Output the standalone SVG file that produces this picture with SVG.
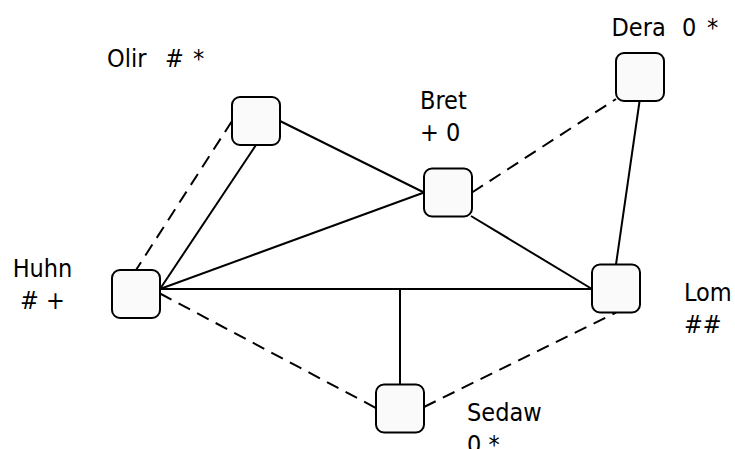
<svg xmlns="http://www.w3.org/2000/svg" width="735" height="449" viewBox="0 0 735 449">
  <style>
    .box { fill: #fafafa; stroke: #000; stroke-width: 2; }
    .edge { fill: none; stroke: #000; stroke-width: 2; }
    .dash { stroke-dasharray: 13 8; }
    .lbl { font-family: "DejaVu Sans", "Liberation Sans", sans-serif; font-stretch: condensed; font-size: 25px; fill: #000; white-space: pre; }
  </style>
  <rect width="735" height="449" fill="#fff"/>

  <!-- connectors -->
  <g id="edges">
    <line class="edge dash" x1="232" y1="121" x2="136" y2="270"/>
    <line class="edge" x1="256" y1="145" x2="160" y2="289"/>
    <line class="edge" x1="280" y1="121" x2="424" y2="192.5"/>
    <line class="edge" x1="160" y1="289" x2="424" y2="192.5"/>
    <line class="edge" x1="160" y1="289" x2="592" y2="289"/>
    <line class="edge" x1="400" y1="289" x2="400" y2="384.5"/>
    <line class="edge" x1="471" y1="216" x2="592" y2="289"/>
    <line class="edge dash" x1="472" y1="192.5" x2="616" y2="99"/>
    <line class="edge" x1="639.5" y1="101.5" x2="616" y2="264.5"/>
    <line class="edge dash" x1="160" y1="293.5" x2="376" y2="408"/>
    <line class="edge dash" x1="424" y1="407" x2="616" y2="312.5"/>
  </g>

  <!-- nodes -->
  <g id="olir">
    <rect class="box" x="232" y="97" width="48" height="48" rx="8"/>
    <text class="lbl" y="67"><tspan x="107">Olir</tspan><tspan x="165">#</tspan><tspan x="193">*</tspan></text>
  </g>
  <g id="bret">
    <rect class="box" x="424" y="168.5" width="48" height="48" rx="8"/>
    <text class="lbl" x="420" y="109">Bret</text>
    <text class="lbl" x="420" y="140.5">+ 0</text>
  </g>
  <g id="dera">
    <rect class="box" x="616" y="53" width="48" height="48" rx="8"/>
    <text class="lbl" y="36"><tspan x="611.5">Dera</tspan><tspan x="682">0</tspan><tspan x="707">*</tspan></text>
  </g>
  <g id="huhn">
    <rect class="box" x="112" y="270" width="48" height="48" rx="8"/>
    <text class="lbl" x="42.5" y="277" text-anchor="middle">Huhn</text>
    <text class="lbl" x="42.5" y="308.5" text-anchor="middle"># +</text>
  </g>
  <g id="lom">
    <rect class="box" x="592" y="264.5" width="48" height="48" rx="8"/>
    <text class="lbl" x="684" y="301">Lom</text>
    <text class="lbl" x="684" y="332.5">##</text>
  </g>
  <g id="sedaw">
    <rect class="box" x="376" y="384.5" width="48" height="48" rx="8"/>
    <text class="lbl" x="467" y="421">Sedaw</text>
    <text class="lbl" x="467" y="452.5">0 *</text>
  </g>
</svg>
